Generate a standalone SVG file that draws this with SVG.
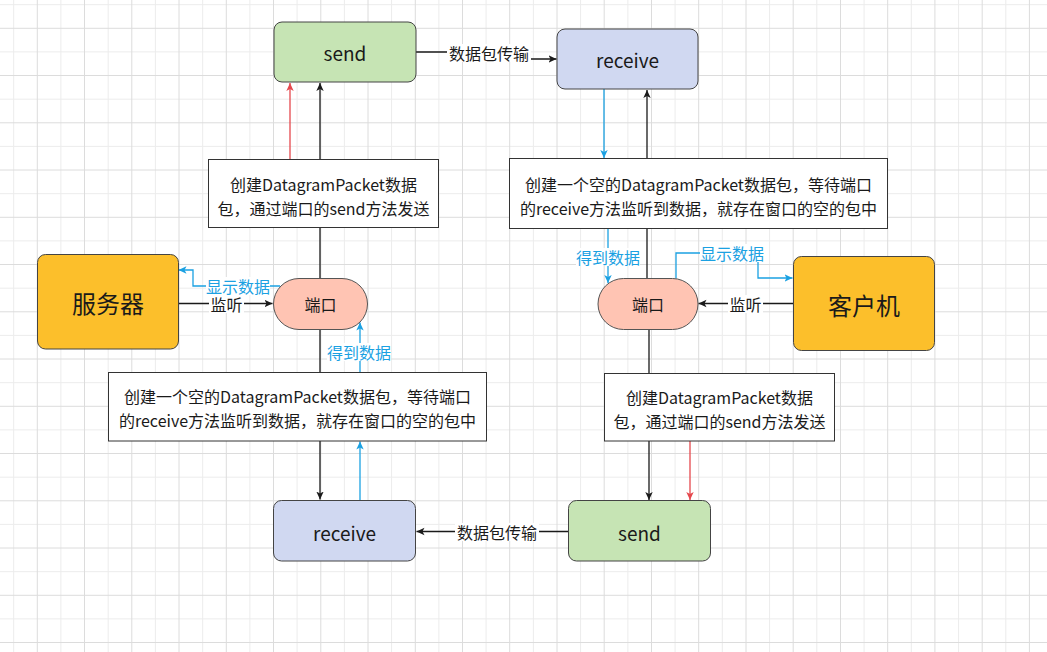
<svg xmlns="http://www.w3.org/2000/svg" width="1047" height="652" viewBox="0 0 1047 652">
<style>
text{font-family:"Noto Sans CJK SC","Noto Sans",sans-serif;fill:#1a1a1a;text-anchor:middle;dominant-baseline:central}
.minor{stroke:#ececec;stroke-width:1;fill:none}
.major{stroke:#dcdcdc;stroke-width:1;fill:none}
.box{stroke:#444;stroke-width:1}
.send{fill:#c6e4b4}
.recv{fill:#d0d8f1}
.port{fill:#ffc4b3;stroke:#555;stroke-width:1}
.host{fill:#fcbf2b}
.note{fill:#fff;stroke:#333;stroke-width:1}
.big{font-size:24px}
.node{font-size:19px}
.pt{font-size:16px}
.nt{font-size:16px}
.lbl{font-size:16px}
.blbl{font-size:16px;fill:#1ba1e2}
.lb{fill:#fff}
.k{stroke:#1a1a1a;stroke-width:1.3;fill:none}
.b{stroke:#1ba1e2;stroke-width:1.3;fill:none}
.r{stroke:#e5484d;stroke-width:1.3;fill:none}
</style>
<defs>
<marker id="ak" markerUnits="userSpaceOnUse" markerWidth="9" markerHeight="9" refX="8" refY="4" orient="auto"><path d="M0,0.3 L8,4 L0,7.7 L2,4 z" fill="#1a1a1a"/></marker>
<marker id="ab" markerUnits="userSpaceOnUse" markerWidth="9" markerHeight="9" refX="8" refY="4" orient="auto"><path d="M0,0.3 L8,4 L0,7.7 L2,4 z" fill="#1ba1e2"/></marker>
<marker id="ar" markerUnits="userSpaceOnUse" markerWidth="9" markerHeight="9" refX="8" refY="4" orient="auto"><path d="M0,0.3 L8,4 L0,7.7 L2,4 z" fill="#e5484d"/></marker>
</defs>
<rect width="1047" height="652" fill="#fff"/>
<g id="grid">
<path class="minor" d="M13.7,0V652M60.9,0V652M108.2,0V652M155.4,0V652M202.7,0V652M249.9,0V652M297.1,0V652M344.4,0V652M391.6,0V652M438.9,0V652M486.1,0V652M533.4,0V652M580.6,0V652M627.9,0V652M675.1,0V652M722.3,0V652M769.6,0V652M816.8,0V652M864.1,0V652M911.3,0V652M958.6,0V652M1005.8,0V652M0,4.7H1047M0,51.9H1047M0,99.2H1047M0,146.4H1047M0,193.7H1047M0,240.9H1047M0,288.2H1047M0,335.4H1047M0,382.7H1047M0,429.9H1047M0,477.2H1047M0,524.4H1047M0,571.7H1047M0,618.9H1047"/>
<path class="major" d="M37.3,0V652M84.5,0V652M131.8,0V652M179,0V652M226.3,0V652M273.5,0V652M320.8,0V652M368,0V652M415.3,0V652M462.5,0V652M509.7,0V652M557,0V652M604.2,0V652M651.5,0V652M698.7,0V652M746,0V652M793.2,0V652M840.5,0V652M887.7,0V652M934.9,0V652M982.2,0V652M1029.4,0V652M0,28.3H1047M0,75.5H1047M0,122.8H1047M0,170H1047M0,217.3H1047M0,264.5H1047M0,311.8H1047M0,359H1047M0,406.3H1047M0,453.5H1047M0,500.8H1047M0,548H1047M0,595.3H1047M0,642.5H1047"/>
</g>
<g id="connectors">
<path class="k" d="M320,278V83" marker-end="url(#ak)"/>
<path class="r" d="M290,159V83" marker-end="url(#ar)"/>
<path class="k" d="M320,329V499.5" marker-end="url(#ak)"/>
<path class="b" d="M360,500V441.5" marker-end="url(#ab)"/>
<path class="b" d="M360,372V322.5" marker-end="url(#ab)"/>
<path class="k" d="M178,303.5H272.5" marker-end="url(#ak)"/>
<path class="b" d="M280,286H193V270H178.5" marker-end="url(#ab)"/>
<path class="k" d="M416,52H488V59H556.5" marker-end="url(#ak)"/>
<path class="b" d="M604,89V158" marker-end="url(#ab)"/>
<path class="k" d="M647,278V90" marker-end="url(#ak)"/>
<path class="b" d="M608,228V283" marker-end="url(#ab)"/>
<path class="b" d="M676,278.5V253H758V278H792.5" marker-end="url(#ab)"/>
<path class="k" d="M793,303.5H698.5" marker-end="url(#ak)"/>
<path class="k" d="M649,329V500" marker-end="url(#ak)"/>
<path class="r" d="M690,441V500" marker-end="url(#ar)"/>
<path class="k" d="M568,531.5H416.5" marker-end="url(#ak)"/>
<rect class="lb" x="447" y="44" width="84" height="18"/><text class="lbl" x="489" y="53">数据包传输</text>
<rect class="lb" x="209" y="295" width="35" height="18"/><text class="lbl" x="226.5" y="304">监听</text>
<rect class="lb" x="206" y="277" width="64" height="18"/><text class="blbl" x="238" y="286">显示数据</text>
<rect class="lb" x="327" y="343" width="64" height="18"/><text class="blbl" x="359" y="352">得到数据</text>
<rect class="lb" x="576" y="248" width="64" height="18"/><text class="blbl" x="608" y="257">得到数据</text>
<rect class="lb" x="700" y="244" width="64" height="18"/><text class="blbl" x="732" y="253">显示数据</text>
<rect class="lb" x="728" y="295" width="35" height="18"/><text class="lbl" x="745.5" y="304">监听</text>
<rect class="lb" x="455" y="523" width="84" height="18"/><text class="lbl" x="497" y="532">数据包传输</text>
</g>
<g id="send-top"><rect class="box send" x="274" y="22" width="142" height="60" rx="8"/><text class="node" x="345" y="52">send</text></g>
<g id="receive-top"><rect class="box recv" x="557" y="29" width="141" height="60" rx="8"/><text class="node" x="627.5" y="59.5">receive</text></g>
<g id="note-server-send"><rect class="note" x="208.5" y="159.5" width="230" height="68"/><text class="nt" x="323.5" y="183.5">创建DatagramPacket数据</text><text class="nt" x="323.5" y="207.5">包，通过端口的send方法发送</text></g>
<g id="note-client-receive"><rect class="note" x="509.5" y="158.5" width="378" height="70"/><text class="nt" x="698.5" y="183.5">创建一个空的DatagramPacket数据包，等待端口</text><text class="nt" x="698.5" y="207.5">的receive方法监听到数据，就存在窗口的空的包中</text></g>
<g id="server"><rect class="box host" x="37.5" y="254.5" width="141" height="94.5" rx="8"/><text class="big" x="108" y="302">服务器</text></g>
<g id="port-server"><rect class="port" x="273.5" y="278.5" width="94" height="51" rx="25.5"/><text class="pt" x="320.5" y="304">端口</text></g>
<g id="port-client"><rect class="port" x="598" y="278.5" width="100" height="51" rx="25.5"/><text class="pt" x="648" y="304">端口</text></g>
<g id="client"><rect class="box host" x="793.5" y="256.5" width="141" height="94" rx="8"/><text class="big" x="864" y="304">客户机</text></g>
<g id="note-server-receive"><rect class="note" x="108.5" y="372.5" width="378" height="68.5"/><text class="nt" x="297.5" y="395.5">创建一个空的DatagramPacket数据包，等待端口</text><text class="nt" x="297.5" y="419.5">的receive方法监听到数据，就存在窗口的空的包中</text></g>
<g id="note-client-send"><rect class="note" x="604.5" y="373.5" width="230" height="67.5"/><text class="nt" x="719.5" y="396.5">创建DatagramPacket数据</text><text class="nt" x="719.5" y="421">包，通过端口的send方法发送</text></g>
<g id="receive-bottom"><rect class="box recv" x="273.5" y="500.5" width="142" height="60.5" rx="8"/><text class="node" x="344.5" y="532">receive</text></g>
<g id="send-bottom"><rect class="box send" x="568.5" y="500.5" width="142" height="60.5" rx="8"/><text class="node" x="639.5" y="532">send</text></g>
</svg>
